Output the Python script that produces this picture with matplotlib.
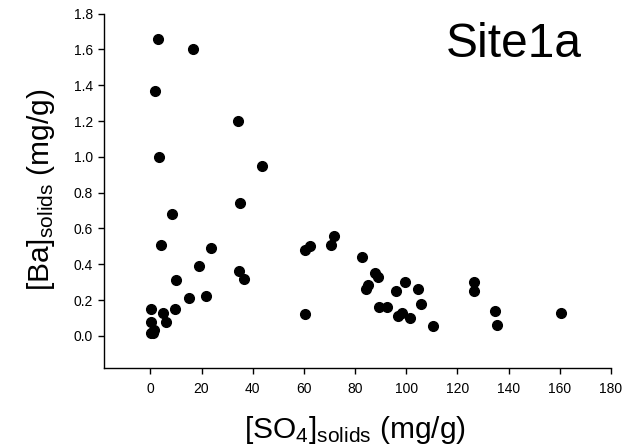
import matplotlib
matplotlib.use("Agg")
import matplotlib.pyplot as plt

plt.rcParams['font.family'] = ['Liberation Sans', 'DejaVu Sans']
plt.rcParams['mathtext.fontset'] = 'custom'
plt.rcParams['mathtext.rm'] = 'Liberation Sans'
plt.rcParams['mathtext.it'] = 'Liberation Sans'

so4 = [2.9, 16.5, 1.95, 34.3, 3.4, 43.5, 35.1, 8.6,
       4.2, 23.5, 19.0, 10.2, 34.7, 36.6, 15.0, 21.8, 0.15, 4.8, 9.6,
       0.4, 6.0, 1.6, 0.3, 0.9, 60.6, 62.3, 60.6,
       71.7, 70.7, 82.8, 87.7, 88.8, 85.0, 84.1, 99.4, 96.1, 104.6, 105.7,
       89.2, 92.6, 96.7, 98.2, 101.6, 110.6, 126.6, 126.6, 134.7, 135.5, 160.6]
ba = [1.66, 1.60, 1.37, 1.20, 1.00, 0.95, 0.74, 0.68,
      0.51, 0.49, 0.39, 0.31, 0.36, 0.32, 0.21, 0.22, 0.15, 0.125, 0.15,
      0.075, 0.078, 0.034, 0.018, 0.015, 0.48, 0.50, 0.12,
      0.56, 0.51, 0.44, 0.35, 0.33, 0.285, 0.26, 0.30, 0.25, 0.26, 0.18,
      0.16, 0.16, 0.11, 0.125, 0.10, 0.056, 0.30, 0.25, 0.14, 0.063, 0.13]

xticks = [0, 20, 40, 60, 80, 100, 120, 140, 160, 180]
yticks = [0.0, 0.2, 0.4, 0.6, 0.8, 1.0, 1.2, 1.4, 1.6, 1.8]

W, H = 627, 447
fig = plt.figure(figsize=(W / 100, H / 100), dpi=100)
ax = fig.add_axes([104.3 / W, 1 - 368 / H, (611 - 104.3) / W, (368 - 13.7) / H])

ax.plot(so4, ba, 'o', color='black', ms=7, clip_on=False)

ax.set_xlim(-18, 180)
ax.set_ylim(-0.18, 1.8)
ax.set_xticks(xticks)
ax.set_xticklabels([str(v) for v in xticks])
ax.set_yticks(yticks)
ax.set_yticklabels([f"{v:.1f}" for v in yticks])

for s in ['top', 'right']:
    ax.spines[s].set_visible(False)
for s in ['left', 'bottom']:
    ax.spines[s].set_linewidth(1.0)

ax.tick_params(axis='both', direction='out', length=4, width=1.0,
               labelsize=10, colors='black')
ax.tick_params(axis='x', pad=6)
ax.tick_params(axis='y', pad=4)

ax.set_xlabel(r'$\mathrm{[SO_4]_{solids}}$ (mg/g)', fontsize=21.5)
ax.xaxis.set_label_coords(355 / W, 1 - 438 / H, transform=fig.transFigure)
ax.xaxis.label.set_va('baseline')

ax.set_ylabel(r'$\mathrm{[Ba]_{solids}}$ (mg/g)', fontsize=21.5)
ax.yaxis.set_label_coords(49 / W, 1 - 190 / H, transform=fig.transFigure)
ax.yaxis.label.set_rotation_mode('anchor')
ax.yaxis.label.set_va('baseline')
ax.yaxis.label.set_ha('center')

fig.text(582 / W, 1 - 57 / H, 'Site1a', fontsize=34.5, ha='right', va='baseline')

fig.savefig('out.png', dpi=100)
